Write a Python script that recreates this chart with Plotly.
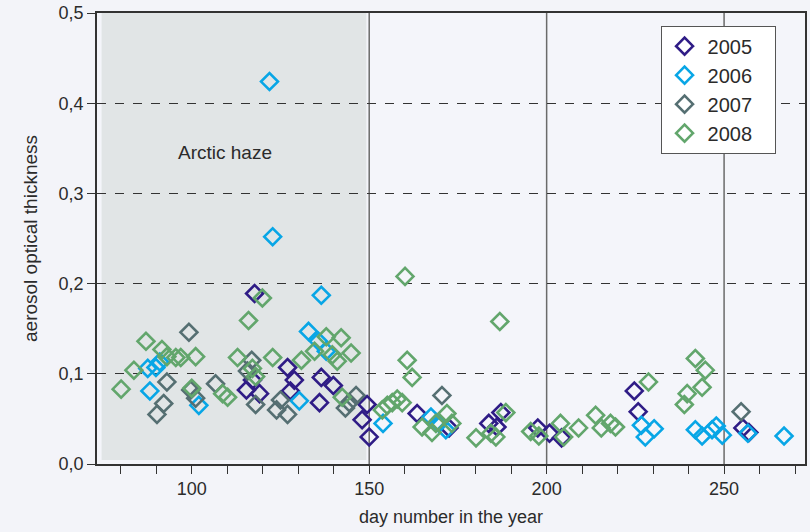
import plotly.graph_objects as go

# ---- data (day number, aerosol optical thickness) ----
day_2005 = [117.7, 115.4, 119.1, 117.1, 127.0, 128.9, 127.8, 136.5, 139.9, 136.0, 149.4, 148.0, 150.0,
            163.5, 172.5, 183.7, 187.1, 186.0, 197.5, 200.8, 204.2, 224.7, 225.8, 255.3, 257.0]
aot_2005 = [0.189, 0.082, 0.078, 0.093, 0.107, 0.093, 0.081, 0.096, 0.087, 0.068, 0.066, 0.049, 0.030,
            0.056, 0.040, 0.045, 0.057, 0.041, 0.040, 0.034, 0.029, 0.081, 0.058, 0.040, 0.035]

day_2006 = [87.6, 89.9, 91.0, 88.2, 102.0, 121.9, 122.8, 136.5, 132.9, 135.7, 137.9, 130.3, 153.9,
            167.4, 169.7, 171.6, 226.7, 227.8, 230.3, 241.9, 243.8, 246.6, 247.8, 249.5, 256.7, 266.9]
aot_2006 = [0.106, 0.107, 0.113, 0.081, 0.065, 0.424, 0.252, 0.187, 0.147, 0.136, 0.125, 0.070, 0.045,
            0.052, 0.045, 0.038, 0.043, 0.030, 0.039, 0.038, 0.031, 0.038, 0.042, 0.032, 0.034, 0.031]

day_2007 = [99.2, 93.0, 92.1, 90.2, 99.7, 101.1, 106.7, 116.9, 115.7, 118.0, 125.0, 123.9, 127.0,
            146.3, 144.4, 143.3, 170.5, 254.8]
aot_2007 = [0.146, 0.091, 0.067, 0.055, 0.082, 0.073, 0.089, 0.115, 0.103, 0.066, 0.071, 0.060, 0.055,
            0.076, 0.068, 0.062, 0.076, 0.058]

day_2008 = [80.1, 83.7, 87.1, 91.6, 93.0, 95.5, 96.9, 101.1, 100.0, 108.7, 110.1, 112.9, 116.0, 119.9,
            117.1, 118.0, 122.8, 130.9, 137.9, 142.1, 134.6, 139.6, 144.9, 141.0, 142.4, 153.7, 155.1,
            156.5, 157.9, 159.3, 160.1, 160.7, 162.1, 164.9, 167.7, 168.8, 171.9, 173.3, 180.1, 184.3,
            185.7, 188.5, 186.8, 195.5, 197.8, 203.9, 204.8, 209.0, 213.8, 215.4, 218.0, 219.4, 228.7,
            241.9, 244.7, 243.8, 239.6, 238.8]
aot_2008 = [0.083, 0.104, 0.136, 0.127, 0.119, 0.118, 0.118, 0.119, 0.084, 0.078, 0.074, 0.118, 0.159, 0.184,
            0.106, 0.097, 0.118, 0.115, 0.141, 0.140, 0.125, 0.121, 0.123, 0.114, 0.074, 0.060, 0.065,
            0.068, 0.072, 0.068, 0.208, 0.115, 0.096, 0.041, 0.035, 0.045, 0.056, 0.045, 0.029, 0.034,
            0.030, 0.057, 0.158, 0.036, 0.031, 0.045, 0.030, 0.040, 0.054, 0.040, 0.045, 0.041, 0.091,
            0.117, 0.104, 0.085, 0.078, 0.066]

years = ["2005", "2006", "2007", "2008"]
colors = ["#2f1c86", "#08a6e6", "#556f72", "#62a66c"]
series = [(day_2005, aot_2005), (day_2006, aot_2006), (day_2007, aot_2007), (day_2008, aot_2008)]

y_tickvals = [0.0, 0.1, 0.2, 0.3, 0.4, 0.5]
y_ticktext = ["0,0", "0,1", "0,2", "0,3", "0,4", "0,5"]
x_tickvals = [100, 150, 200, 250]
x_ticktext = ["100", "150", "200", "250"]
vlines = [150, 200, 250]

haze_start, haze_end = 74.6, 149.2
x_range = [73.3, 272.8]
y_range = [0, 0.5]

FONT = "Arial, Liberation Sans, sans-serif"
TXT = "#2b2b2b"
PAD = "\u00a0\u00a0\u00a0"  # right padding inside the legend box

fig = go.Figure()
for (d, v), name, c in zip(series, years, colors):
    fig.add_trace(go.Scatter(
        x=d, y=v, mode="markers", name=name + PAD,
        marker=dict(symbol="diamond-open", size=13, color=c, line=dict(width=2.6, color=c)),
    ))

# Arctic haze shaded period
fig.add_shape(type="rect", xref="x", yref="y", x0=haze_start, x1=haze_end, y0=0.0045, y1=0.5,
              fillcolor="#e1e5e6", line=dict(width=0), layer="below")
for xv in vlines:
    fig.add_shape(type="line", xref="x", yref="y", x0=xv, x1=xv, y0=0, y1=0.5,
                  line=dict(color="#6a6a6a", width=1.5), layer="below")

fig.add_annotation(x=109.3, y=0.3455, xref="x", yref="y", text="Arctic haze", showarrow=False,
                   font=dict(family=FONT, size=19, color=TXT))

fig.update_layout(
    width=810, height=532,
    margin=dict(l=97, r=3, t=11, b=68),
    paper_bgcolor="#f3f4f9", plot_bgcolor="#f4f5fa",
    font=dict(family=FONT, color=TXT),
    showlegend=True,
    legend=dict(x=0.796, y=0.972, xanchor="left", yanchor="top",
                bgcolor="#ffffff", bordercolor="#555555", borderwidth=1,
                font=dict(family=FONT, size=20, color=TXT), itemwidth=36,
                tracegroupgap=0),
    xaxis=dict(range=x_range, tickmode="array", tickvals=x_tickvals, ticktext=x_ticktext,
               ticks="outside", ticklen=8, tickwidth=1.2, tickcolor="#333",
               minor=dict(tickmode="linear", tick0=0, dtick=10, ticks="outside", ticklen=8,
                          tickwidth=1.2, tickcolor="#333", showgrid=False),
               showgrid=False, zeroline=False,
               showline=True, linecolor="#333", linewidth=1.5, mirror=True,
               tickfont=dict(family=FONT, size=18, color=TXT),
               title=dict(text="day number in the year", standoff=12,
                          font=dict(family=FONT, size=18, color=TXT))),
    yaxis=dict(range=y_range, tickmode="array", tickvals=y_tickvals, ticktext=y_ticktext,
               ticks="outside", ticklen=8, tickwidth=1.2, tickcolor="#333",
               showgrid=True, gridcolor="#333", griddash="dash", gridwidth=1,
               zeroline=False,
               showline=True, linecolor="#333", linewidth=1.5, mirror=True,
               tickfont=dict(family=FONT, size=18, color=TXT),
               title=dict(text="aerosol optical thickness", standoff=16,
                          font=dict(family=FONT, size=19, color=TXT))),
)

fig.write_html("out.html", config={"displayModeBar": False})
